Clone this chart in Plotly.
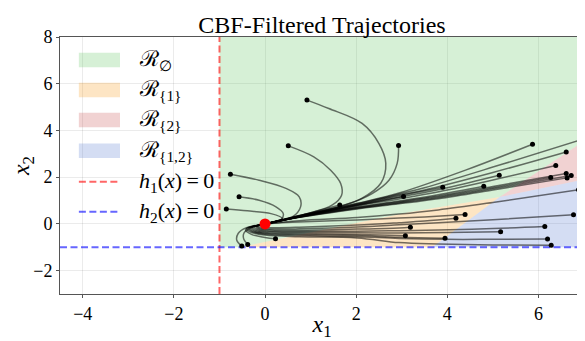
import plotly.graph_objects as go

# ---------------- data ----------------
X_RANGE = [-4.5, 7]
Y_RANGE = [-3, 8]
X_TICKS = [-4, -2, 0, 2, 4, 6]
Y_TICKS = [-2, 0, 2, 4, 6, 8]

H1_X = -1   # h1(x) = 0  ->  x1 = -1
H2_Y = -1   # h2(x) = 0  ->  x2 = -1

# active-set regions (polygons)
R_EMPTY_X = [-1, -0.55, 1.6, 3.16, 5.15, 7, 7, -1]
R_EMPTY_Y = [-1, -1, -0.12, 0.5, 1.15, 3.55, 8, 8]
R_1_X = [-0.55, 1.6, 3.16, 5.15, 3.67]
R_1_Y = [-1, -0.12, 0.5, 1.15, -1]
R_2_X = [5.15, 7, 7]
R_2_Y = [1.15, 3.55, 1.9]
R_12_X = [3.67, 5.15, 7, 7]
R_12_Y = [-1, 1.15, 1.9, -1]

# trajectories, first point = initial state
TRAJ_X = [
    [0.92, 1.40, 2.13, 2.50, 2.65, 2.54, 2.13, 1.62, 0.75, 0],
    [0.51, 1.07, 1.44, 1.66, 1.68, 1.47, 0.86, 0],
    [2.93, 2.90, 2.72, 2.35, 1.80, 0.75, 0],
    [-0.76, -0.13, 0.46, 0.75, 0.78, 0.60, 0],
    [-0.57, -0.13, 0.24, 0.40, 0.35, 0],
    [-0.85, -0.39, 0.13, 0.38, 0.22, 0],
    [1.64, 1.0, 0.5, 0],
    [3.04, 2.02, 0.75, 0],
    [0.23, 0.0, -0.3, -0.43, -0.3, 0],
    [-0.38, -0.47, -0.46, -0.31, -0.13, 0],
    [-0.51, -0.62, -0.59, -0.42, -0.2, 0],
    [3.08, 2.94, 2.02, 0.75, 0.05, -0.25, -0.3, -0.17, 0],
    [5.87, 4.4, 2.94, 2.02, 0.75, 0],
    [6.95, 5.2, 3.5, 2.94, 2.02, 0.75, 0],
    [6.61, 5.0, 3.5, 2.94, 2.02, 0.75, 0],
    [3.90, 2.94, 2.02, 0.75, 0],
    [5.14, 4.0, 2.94, 2.02, 0.75, 0],
    [6.38, 5.0, 4.0, 2.94, 2.02, 0.75, 0],
    [4.80, 3.8, 2.94, 2.02, 0.75, 0],
    [6.61, 5.0, 3.8, 2.94, 2.02, 0.75, 0],
    [6.27, 5.0, 3.8, 2.94, 2.02, 0.75, 0],
    [6.72, 5.0, 3.8, 2.94, 2.02, 0.75, 0],
    [6.63, 5.0, 3.8, 2.94, 2.02, 0.75, 0],
    [6.88, 5.0, 3.8, 2.94, 2.02, 0.75, 0],
    [4.39, 3.5, 2.94, 2.02, 0.75, 0.35, 0],
    [4.19, 3.5, 2.94, 2.02, 0.75, 0.3, 0, -0.15, -0.1, 0],
    [6.77, 5.0, 3.8, 2.94, 2.02, 0.75, 0.2, -0.1, -0.18, -0.1, 0],
    [3.19, 2.94, 2.02, 0.75, 0.15, -0.15, -0.2, -0.1, 0],
    [6.14, 5.0, 3.8, 2.94, 2.02, 0.75, 0.1, -0.18, -0.24, -0.12, 0],
    [5.17, 4.0, 2.94, 2.02, 0.75, 0.1, -0.22, -0.28, -0.15, 0],
    [3.95, 2.94, 2.02, 0.75, 0.0, -0.28, -0.33, -0.19, 0],
    [6.20, 5.0, 3.95, 2.94, 2.02, 0.75, 0.0, -0.3, -0.36, -0.21, 0],
    [6.28, 5.0, 3.8, 2.94, 2.02, 0.75, 0.0, -0.33, -0.4, -0.23, 0],
]
TRAJ_Y = [
    [5.30, 4.94, 4.30, 3.44, 2.60, 1.74, 1.10, 0.73, 0.36, 0],
    [3.34, 2.87, 2.30, 1.73, 1.23, 0.80, 0.40, 0],
    [3.36, 2.59, 1.87, 1.30, 0.84, 0.34, 0],
    [2.13, 1.87, 1.52, 1.16, 0.73, 0.30, 0],
    [1.16, 1.01, 0.73, 0.44, 0.18, 0],
    [0.64, 0.56, 0.44, 0.23, 0.10, 0],
    [0.81, 0.48, 0.23, 0],
    [1.17, 0.80, 0.31, 0],
    [-0.64, -0.58, -0.45, -0.25, -0.11, 0],
    [-0.88, -0.63, -0.38, -0.17, -0.05, 0],
    [-0.95, -0.70, -0.41, -0.17, -0.08, 0],
    [-0.51, -0.5, -0.45, -0.41, -0.38, -0.28, -0.15, -0.07, 0],
    [3.41, 2.3, 1.32, 0.88, 0.33, 0],
    [3.61, 2.55, 1.55, 1.28, 0.86, 0.33, 0],
    [3.08, 2.2, 1.45, 1.24, 0.84, 0.32, 0],
    [1.57, 1.20, 0.82, 0.32, 0],
    [2.08, 1.55, 1.14, 0.80, 0.31, 0],
    [2.50, 1.88, 1.45, 1.07, 0.77, 0.31, 0],
    [1.61, 1.25, 0.98, 0.72, 0.30, 0],
    [2.16, 1.6, 1.2, 0.95, 0.70, 0.29, 0],
    [1.99, 1.55, 1.16, 0.92, 0.68, 0.29, 0],
    [2.07, 1.5, 1.12, 0.89, 0.66, 0.28, 0],
    [1.97, 1.45, 1.08, 0.86, 0.64, 0.28, 0],
    [1.46, 0.92, 0.6, 0.42, 0.27, 0.14, 0],
    [0.40, 0.3, 0.25, 0.17, 0.08, 0.05, 0],
    [0.24, 0.12, 0.05, -0.05, -0.14, -0.16, -0.15, -0.1, -0.04, 0],
    [0.39, 0.18, 0.05, -0.04, -0.13, -0.21, -0.22, -0.18, -0.1, -0.04, 0],
    [-0.14, -0.17, -0.22, -0.27, -0.26, -0.19, -0.1, -0.04, 0],
    [-0.11, -0.2, -0.26, -0.29, -0.31, -0.32, -0.3, -0.22, -0.11, -0.05, 0],
    [-0.34, -0.37, -0.39, -0.38, -0.36, -0.34, -0.25, -0.13, -0.06, 0],
    [-0.61, -0.57, -0.5, -0.45, -0.41, -0.3, -0.17, -0.08, 0],
    [-0.65, -0.66, -0.66, -0.62, -0.55, -0.5, -0.44, -0.32, -0.18, -0.09, 0],
    [-0.91, -0.9, -0.86, -0.8, -0.6, -0.55, -0.48, -0.34, -0.19, -0.1, 0],
]
ORIGIN = [0, 0]

LEGEND_LABELS = ["ℛ<sub>∅</sub>", "ℛ<sub>{1}</sub>", "ℛ<sub>{2}</sub>", "ℛ<sub>{1,2}</sub>",
                 "<i>h</i><sub>1</sub>(<i>x</i>)\u2009=\u20090", "<i>h</i><sub>2</sub>(<i>x</i>)\u2009=\u20090"]
TITLE = "CBF-Filtered Trajectories"

# ---------------- style ----------------
SERIF = "Liberation Serif, Times New Roman, DejaVu Serif, serif"
C_EMPTY = "rgba(91,195,91,0.25)"
C_1 = "rgba(247,151,19,0.25)"
C_2 = "rgba(199,75,75,0.25)"
C_12 = "rgba(83,119,207,0.25)"
C_H1 = "rgba(255,0,0,0.6)"
C_H2 = "rgba(0,0,255,0.6)"
DASH = "7px,3.5px"

# the page body adds an 8px offset, so the figure is 8px smaller than the window
FIG_W, FIG_H = 577, 333

fig = go.Figure()

for xs, ys, col in [(R_EMPTY_X, R_EMPTY_Y, C_EMPTY), (R_1_X, R_1_Y, C_1),
                    (R_2_X, R_2_Y, C_2), (R_12_X, R_12_Y, C_12)]:
    fig.add_trace(go.Scatter(x=xs, y=ys, fill="toself", fillcolor=col, mode="none",
                             showlegend=False, hoverinfo="skip"))

fig.add_trace(go.Scatter(x=[H1_X, H1_X], y=Y_RANGE, mode="lines",
                         line=dict(color=C_H1, width=2, dash=DASH), showlegend=False))
fig.add_trace(go.Scatter(x=X_RANGE, y=[H2_Y, H2_Y], mode="lines",
                         line=dict(color=C_H2, width=2, dash=DASH), showlegend=False))

for xs, ys in zip(TRAJ_X, TRAJ_Y):
    fig.add_trace(go.Scatter(x=xs, y=ys, mode="lines",
                             line=dict(color="rgba(0,0,0,0.55)", width=1.5, shape="spline", smoothing=1.0),
                             showlegend=False, hoverinfo="skip"))

fig.add_trace(go.Scatter(x=[t[0] for t in TRAJ_X], y=[t[0] for t in TRAJ_Y], mode="markers",
                         marker=dict(color="black", size=5), showlegend=False))
fig.add_trace(go.Scatter(x=[ORIGIN[0]], y=[ORIGIN[1]], mode="markers",
                         marker=dict(color="red", size=11), showlegend=False))

# ---------------- manual legend ----------------
row_y = [0.9105, 0.7938, 0.677, 0.5576, 0.437, 0.320]
px0, px1, tx = 0.036, 0.1145, 0.146
patch_cols = [C_EMPTY, C_1, C_2, C_12]
shapes = []
for i, col in enumerate(patch_cols):
    shapes.append(dict(type="rect", xref="paper", yref="paper", x0=px0, x1=px1,
                       y0=row_y[i] - 0.028, y1=row_y[i] + 0.028, fillcolor=col, line=dict(width=0)))
for i, col in [(4, C_H1), (5, C_H2)]:
    shapes.append(dict(type="line", xref="paper", yref="paper", x0=px0, x1=px1,
                       y0=row_y[i], y1=row_y[i], line=dict(color=col, width=2, dash=DASH)))
annotations = []
for i, lab in enumerate(LEGEND_LABELS):
    annotations.append(dict(xref="paper", yref="paper", x=tx, y=row_y[i], text=lab, showarrow=False,
                            xanchor="left", yanchor="middle", font=dict(family=SERIF, size=22, color="black")))

axis_common = dict(showgrid=True, gridcolor="rgba(0,0,0,0.08)", gridwidth=1, zeroline=False,
                   showline=True, mirror=True, linecolor="#555555", linewidth=1,
                   ticks="outside", ticklen=3, tickcolor="#555555", automargin=False,
                   tickfont=dict(family=SERIF, size=18, color="black"))

fig.update_layout(
    width=FIG_W, height=FIG_H,
    margin=dict(l=52, r=1, t=29, b=47, autoexpand=False),
    paper_bgcolor="white", plot_bgcolor="white",
    title=dict(text=TITLE, x=0.5, xref="paper", xanchor="center", y=1 - 17 / FIG_H, yref="container",
               yanchor="middle", font=dict(family=SERIF, size=24, color="black"), automargin=False),
    xaxis=dict(range=X_RANGE, tickvals=X_TICKS, **axis_common, ticklabelstandoff=0,
               title=dict(text="<i>x</i><sub>1</sub>", font=dict(family=SERIF, size=24, color="black"), standoff=6)),
    yaxis=dict(range=Y_RANGE, tickvals=Y_TICKS, **axis_common,
               title=dict(text="<i>x</i><sub>2</sub>", font=dict(family=SERIF, size=24, color="black"), standoff=6)),
    shapes=shapes,
    annotations=annotations,
    showlegend=False,
)

fig.write_html("out.html")
